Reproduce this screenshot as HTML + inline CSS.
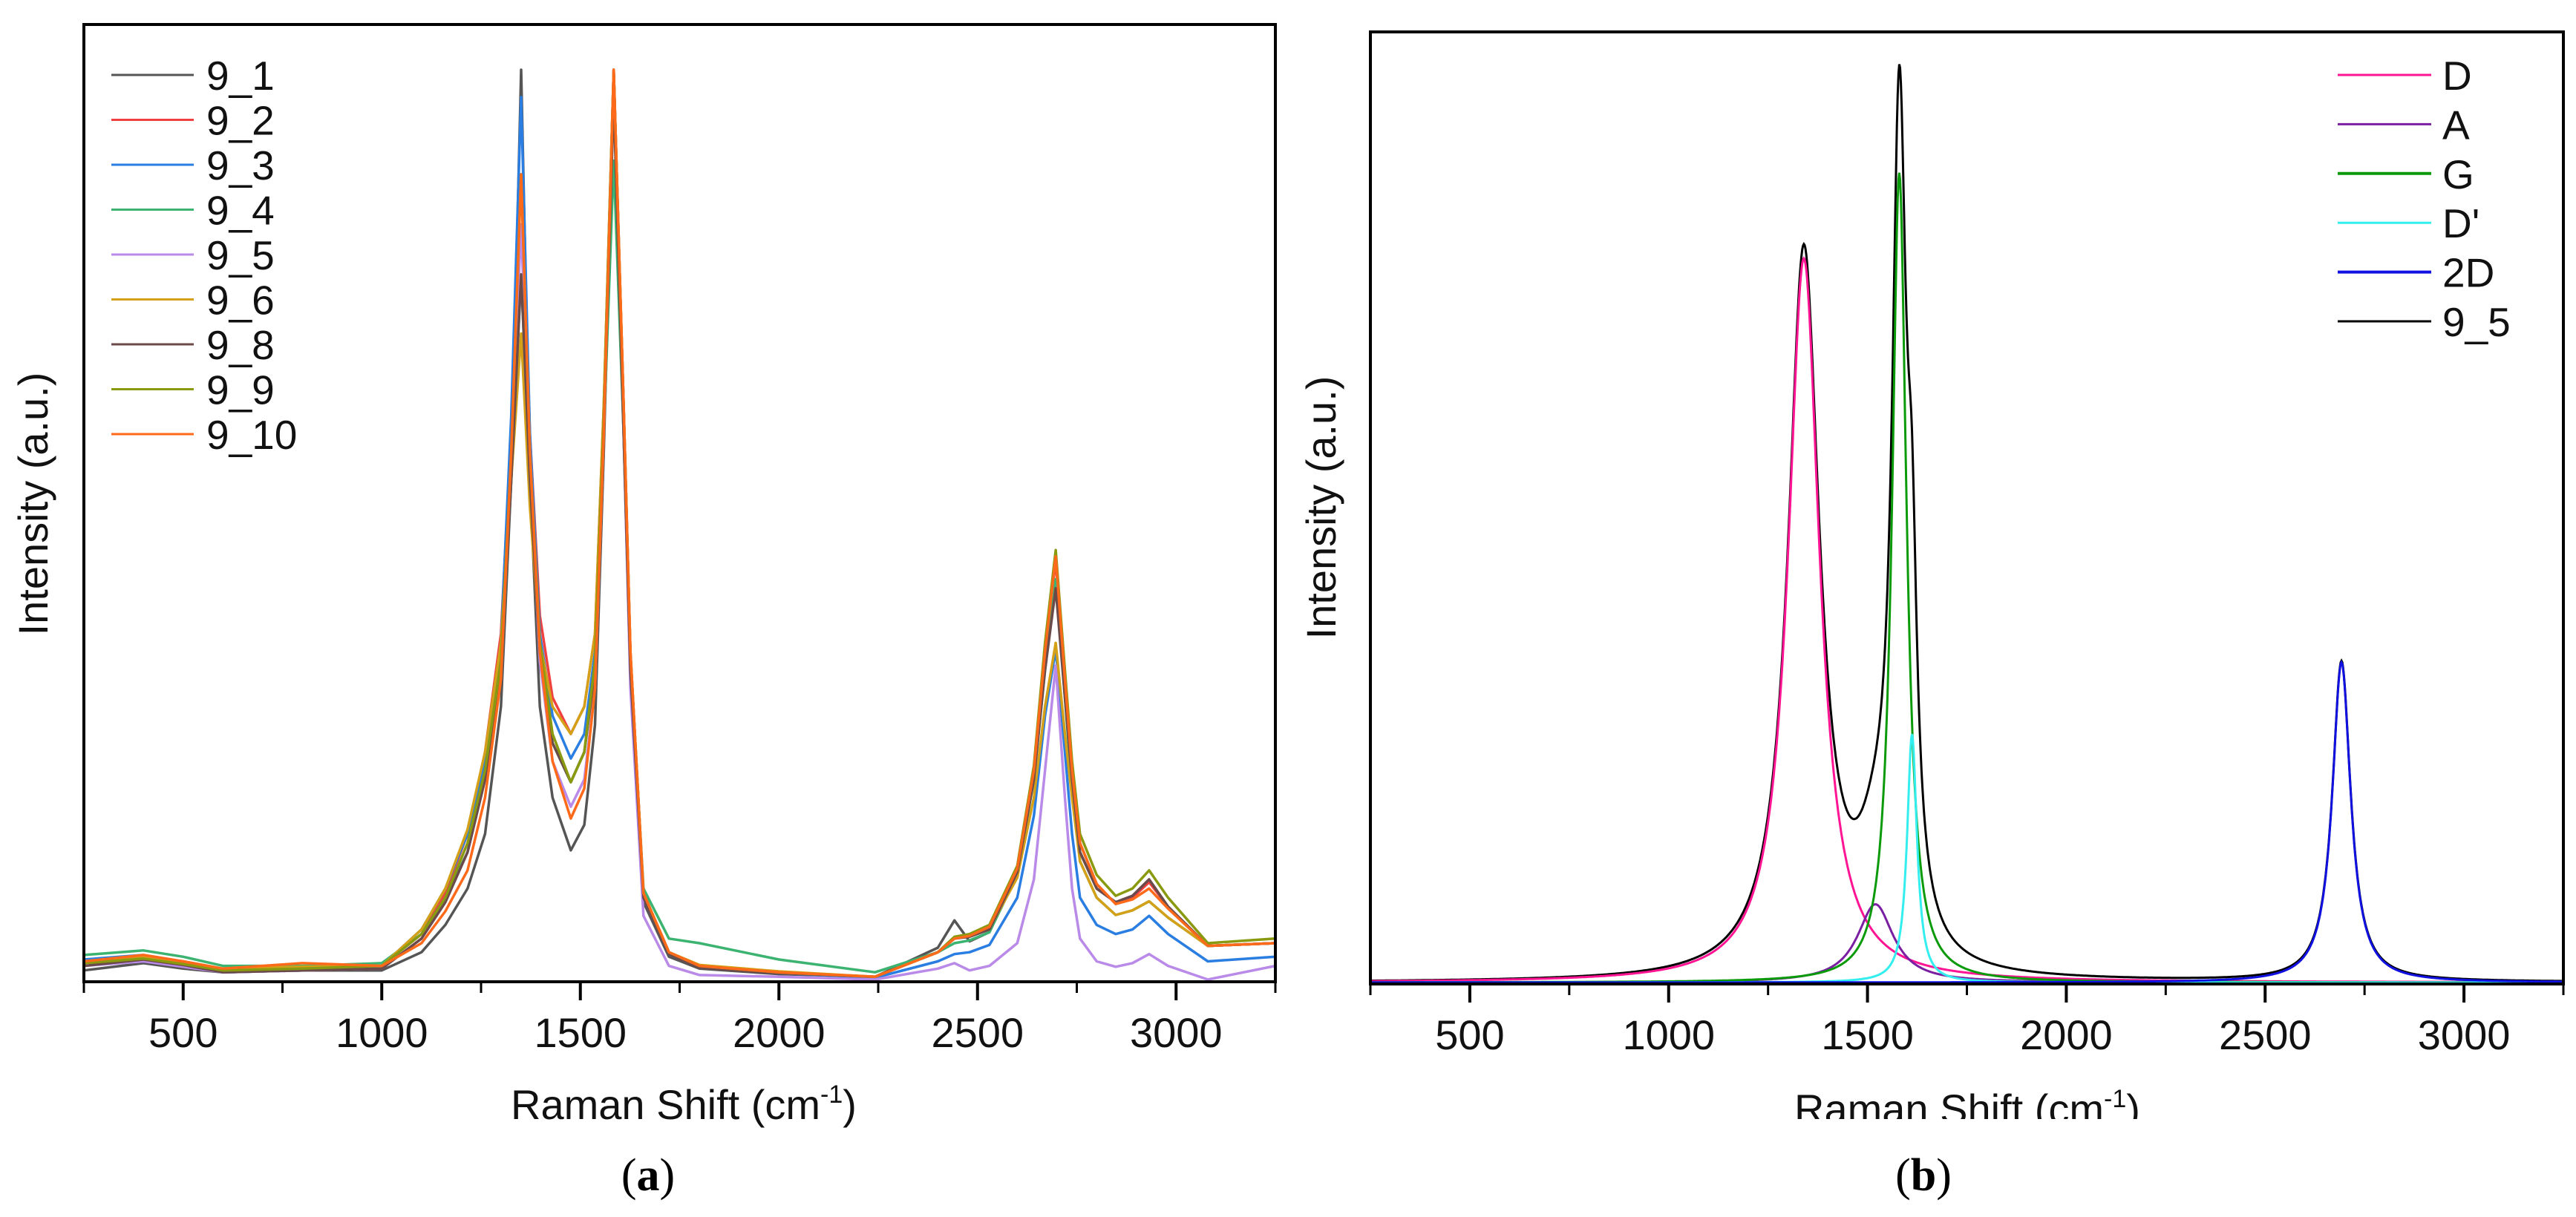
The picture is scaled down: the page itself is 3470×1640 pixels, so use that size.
<!DOCTYPE html>
<html><head><meta charset="utf-8"><style>
html,body{margin:0;padding:0;background:#fff;}
svg{display:block;font-family:"Liberation Sans",Arial,sans-serif;}
</style></head><body>
<svg id="fig" width="3470" height="1640" viewBox="0 0 3470 1640" xmlns="http://www.w3.org/2000/svg">
<rect width="3470" height="1640" fill="#fff"/>
<g id="pa"></g>
<g id="pb"></g>
</svg>
<script>
// ---------- Panel (a) data ----------
const gridX = [250,400,500,600,800,1000,1100,1160,1216,1260,1300,1326,1351,1373,1398,1430,1476,1510,1537,1559,1584,1609,1626,1659,1723,1800,2000,2242,2400,2442,2480,2530,2600,2642,2670,2697,2720,2738,2758,2800,2848,2890,2932,2980,3080,3250];
const seriesNames = ["9_1","9_2","9_3","9_4","9_5","9_6","9_8","9_9","9_10"];
const seriesColors = ["#555555","#f04040","#2a7de1","#3cb371","#b98ae8","#d4a017","#6b4a4a","#8a9a10","#ff6a1a"];
const s9_1 = [0.01,0.018,0.012,0.008,0.01,0.01,0.03,0.06,0.1,0.16,0.3,0.55,1.0,0.55,0.3,0.2,0.142,0.17,0.28,0.58,0.98,0.6,0.33,0.085,0.025,0.012,0.006,0.003,0.035,0.065,0.042,0.052,0.118,0.22,0.35,0.44,0.32,0.22,0.14,0.1,0.085,0.092,0.11,0.08,0.037,0.04];
const s9_2 = [0.02,0.025,0.018,0.01,0.012,0.015,0.05,0.095,0.16,0.25,0.38,0.6,0.885,0.6,0.4,0.31,0.27,0.3,0.38,0.63,1.0,0.63,0.36,0.095,0.03,0.015,0.008,0.003,0.03,0.045,0.048,0.058,0.122,0.23,0.36,0.46,0.33,0.23,0.15,0.105,0.083,0.09,0.107,0.08,0.037,0.04];
const s9_3 = [0.022,0.027,0.015,0.008,0.01,0.015,0.055,0.1,0.16,0.24,0.37,0.62,0.97,0.6,0.38,0.29,0.243,0.27,0.36,0.62,1.0,0.62,0.35,0.09,0.028,0.014,0.007,0.002,0.02,0.028,0.03,0.038,0.09,0.18,0.29,0.363,0.25,0.16,0.09,0.06,0.05,0.055,0.07,0.05,0.02,0.025];
const s9_4 = [0.027,0.032,0.025,0.015,0.015,0.018,0.05,0.09,0.14,0.22,0.34,0.55,0.775,0.55,0.36,0.26,0.217,0.25,0.34,0.6,0.9,0.6,0.35,0.1,0.045,0.04,0.022,0.008,0.03,0.04,0.043,0.052,0.115,0.22,0.34,0.44,0.31,0.21,0.13,0.09,0.071,0.076,0.086,0.068,0.037,0.04];
const s9_5 = [0.015,0.02,0.014,0.008,0.01,0.012,0.045,0.085,0.14,0.22,0.34,0.57,0.83,0.56,0.35,0.24,0.19,0.22,0.32,0.6,1.0,0.6,0.32,0.07,0.015,0.005,0.003,0.0,0.012,0.018,0.01,0.015,0.04,0.11,0.23,0.345,0.2,0.1,0.045,0.02,0.014,0.018,0.028,0.015,0.0,0.015];
const s9_6 = [0.02,0.025,0.02,0.012,0.014,0.015,0.055,0.1,0.165,0.25,0.37,0.55,0.71,0.52,0.37,0.3,0.27,0.3,0.38,0.63,1.0,0.63,0.36,0.095,0.03,0.016,0.009,0.003,0.03,0.045,0.048,0.056,0.112,0.2,0.3,0.37,0.27,0.2,0.13,0.09,0.071,0.076,0.086,0.068,0.037,0.04];
const s9_8 = [0.015,0.022,0.016,0.008,0.01,0.012,0.045,0.085,0.14,0.22,0.34,0.55,0.775,0.55,0.36,0.26,0.217,0.25,0.34,0.6,0.97,0.6,0.34,0.09,0.028,0.013,0.007,0.003,0.03,0.045,0.047,0.055,0.118,0.22,0.34,0.43,0.31,0.22,0.14,0.1,0.085,0.092,0.11,0.08,0.037,0.04];
const s9_9 = [0.018,0.023,0.017,0.01,0.012,0.015,0.05,0.09,0.15,0.23,0.35,0.58,0.885,0.58,0.37,0.27,0.217,0.25,0.35,0.62,1.0,0.63,0.36,0.095,0.03,0.015,0.008,0.003,0.03,0.047,0.05,0.06,0.125,0.235,0.37,0.472,0.34,0.24,0.16,0.115,0.092,0.1,0.12,0.09,0.04,0.045];
const s9_10 = [0.02,0.027,0.02,0.012,0.018,0.015,0.04,0.075,0.12,0.2,0.33,0.58,0.885,0.58,0.36,0.24,0.177,0.21,0.32,0.6,1.0,0.63,0.36,0.095,0.03,0.015,0.008,0.003,0.03,0.045,0.048,0.058,0.122,0.23,0.36,0.465,0.33,0.23,0.15,0.105,0.083,0.088,0.1,0.078,0.037,0.04];
const seriesValues = [s9_1,s9_2,s9_3,s9_4,s9_5,s9_6,s9_8,s9_9,s9_10];
const xTickLabels = [500,1000,1500,2000,2500,3000];
const xMinorTicks = [250,750,1250,1750,2250,2750,3250];

// ---------- Panel (b) data: Lorentzian fit components ----------
const compNames = ["D","A","G","D'","2D"];
const compColors = ["#ff1493","#7a1fa2","#0a9a0a","#33eeee","#1010e0"];
const compCenters = [1340,1520,1580,1612,2692];
const compAmps = [0.787,0.085,0.88,0.27,0.348];
const compHalfWidths = [48,55,22,15,28];
const totalName = "9_5";

const NS="http://www.w3.org/2000/svg";
function mk(parent,tag,attrs){const e=document.createElementNS(NS,tag);for(const k in attrs)e.setAttribute(k,attrs[k]);parent.appendChild(e);return e;}

function drawAxes(g,L,T,R,B,xs){
  mk(g,'rect',{x:L,y:T,width:R-L,height:B-T,fill:'none',stroke:'#000','stroke-width':4});
  xTickLabels.forEach(v=>{
    const t=mk(g,'line',{x1:xs(v),x2:xs(v),y1:B,y2:B+25,stroke:'#000','stroke-width':4});
    
    
    const tx=mk(g,'text',{x:xs(v),y:B+88,'font-size':56,'text-anchor':'middle',fill:'#111'});
    tx.textContent=v;
    
    
  });
  xMinorTicks.forEach(v=>{
    const t=mk(g,'line',{x1:xs(v),x2:xs(v),y1:B,y2:B+15,stroke:'#000','stroke-width':3});
    
    
  });
}

// ----- Panel a -----
(function(){
  const g=document.getElementById('pa');
  const L=113,R=1718,T=33,B=1323;
  const xs=v=>L+(v-250)*(R-L)/3000;
  const ys=v=>1320-v*1226;
  seriesValues.forEach((arr,i)=>{
    const d=arr.map((v,j)=>(j?'L':'M')+xs(gridX[j]).toFixed(1)+','+ys(v).toFixed(1)).join('');
    const p=mk(g,'path',{d:d,fill:'none',stroke:seriesColors[i],'stroke-width':3.5,'stroke-linejoin':'round'});
    
    
  });
  drawAxes(g,L,T,R,B,xs);
  seriesNames.forEach((n,i)=>{
    const y=101+i*60.5;
    const ln=mk(g,'line',{x1:150,x2:261,y1:y,y2:y,stroke:seriesColors[i],'stroke-width':3});
    
    
    const t=mk(g,'text',{x:278,y:y+20,'font-size':55,fill:'#111'});
    t.textContent=n;
    
    
  });
  const yl=mk(g,'text',{x:0,y:0,'font-size':56,'text-anchor':'middle',fill:'#111',transform:'translate(64,679) rotate(-90)'});
  yl.textContent='Intensity (a.u.)';
  
  
  const xl=mk(g,'text',{x:921,y:1508,'font-size':56,'text-anchor':'middle',fill:'#111'});
  xl.innerHTML='Raman Shift (cm<tspan dy="-22" font-size="34">-1</tspan><tspan dy="22">)</tspan>';
  
  
  const cap=mk(g,'text',{x:873,y:1604,'font-size':62,'text-anchor':'middle',fill:'#000','font-family':'Liberation Serif, serif'});
  cap.innerHTML='(<tspan font-weight="bold">a</tspan>)';
  
  
})();

// ----- Panel b -----
(function(){
  const g=document.getElementById('pb');
  const L=1846,R=3453,T=43,B=1326;
  const xs=v=>L+(v-250)*(R-L)/3000;
  const ys=v=>1324-v*1240;
  const lor=(k,x)=>compAmps[k]/(1+Math.pow((x-compCenters[k])/compHalfWidths[k],2));
  const xsamp=[];for(let x=250;x<=3250;x+=2)xsamp.push(x);
  const tot=xsamp.map(x=>{let s=0;for(let k=0;k<compNames.length;k++)s+=lor(k,x);return s;});
  const tp=mk(g,'path',{d:xsamp.map((x,j)=>(j?'L':'M')+xs(x).toFixed(1)+','+ys(tot[j]).toFixed(1)).join(''),fill:'none',stroke:'#000','stroke-width':3});
  
  
  compNames.forEach((n,k)=>{
    const d=xsamp.map((x,j)=>(j?'L':'M')+xs(x).toFixed(1)+','+ys(lor(k,x)).toFixed(1)).join('');
    const p=mk(g,'path',{d:d,fill:'none',stroke:compColors[k],'stroke-width':3});
    
    
  });
  drawAxes(g,L,T,R,B,xs);
  const names=compNames.concat([totalName]);const cols=compColors.concat(['#000']);
  names.forEach((n,i)=>{
    const y=101+i*66.4;
    const ln=mk(g,'line',{x1:3149,x2:3275,y1:y,y2:y,stroke:cols[i],'stroke-width':(i==2||i==4)?4:3});
    
    
    const t=mk(g,'text',{x:3290,y:y+20,'font-size':55,fill:'#111'});
    t.textContent=n;
    
    
  });
  const yl=mk(g,'text',{x:0,y:0,'font-size':56,'text-anchor':'middle',fill:'#111',transform:'translate(1799,684) rotate(-90)'});
  yl.textContent='Intensity (a.u.)';
  
  
  const xl=mk(g,'text',{x:2650,y:1514,'font-size':56,'text-anchor':'middle',fill:'#111'});
  xl.innerHTML='Raman Shift (cm<tspan dy="-22" font-size="34">-1</tspan><tspan dy="22">)</tspan>';
  
  
  mk(g,'rect',{x:2300,y:1508,width:700,height:40,fill:'#fff'});
  const cap=mk(g,'text',{x:2591,y:1604,'font-size':62,'text-anchor':'middle',fill:'#000','font-family':'Liberation Serif, serif'});
  cap.innerHTML='(<tspan font-weight="bold">b</tspan>)';
  
  
})();
</script>
</body></html>
